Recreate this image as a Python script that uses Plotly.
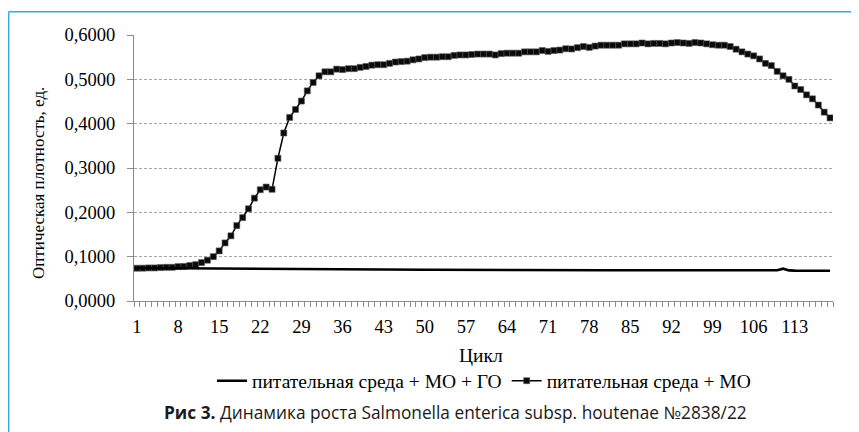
import plotly.graph_objects as go

# ---- data ----
cycles = list(range(1, 120))

series_mo_go_name = "питательная среда + МО + ГО"
series_mo_go = [
    0.0745, 0.0744, 0.0743, 0.0741, 0.0740, 0.0739, 0.0737, 0.0736, 0.0735, 0.0734,
    0.0733, 0.0732, 0.0731, 0.0730, 0.0729, 0.0728, 0.0727, 0.0727, 0.0726, 0.0725,
    0.0724, 0.0723, 0.0722, 0.0721, 0.0720, 0.0719, 0.0718, 0.0717, 0.0716, 0.0715,
    0.0715, 0.0714, 0.0714, 0.0713, 0.0713, 0.0712, 0.0712, 0.0711, 0.0711, 0.0710,
    0.0710, 0.0709, 0.0709, 0.0708, 0.0708, 0.0707, 0.0707, 0.0706, 0.0706, 0.0705,
    0.0705, 0.0704, 0.0704, 0.0704, 0.0703, 0.0703, 0.0703, 0.0702, 0.0702, 0.0701,
    0.0701, 0.0701, 0.0700, 0.0700, 0.0700, 0.0699, 0.0699, 0.0699, 0.0698, 0.0698,
    0.0698, 0.0697, 0.0697, 0.0697, 0.0696, 0.0696, 0.0696, 0.0695, 0.0695, 0.0695,
    0.0694, 0.0694, 0.0694, 0.0693, 0.0693, 0.0693, 0.0692, 0.0692, 0.0692, 0.0691,
    0.0691, 0.0691, 0.0690, 0.0690, 0.0690, 0.0689, 0.0689, 0.0689, 0.0688, 0.0688,
    0.0688, 0.0688, 0.0687, 0.0687, 0.0687, 0.0687, 0.0686, 0.0686, 0.0686, 0.0692,
    0.0730, 0.0690, 0.0685, 0.0685, 0.0685, 0.0684, 0.0684, 0.0684, 0.0684,
]

series_mo_name = "питательная среда + МО"
series_mo = [
    0.0739, 0.0740, 0.0746, 0.0746, 0.0754, 0.0760, 0.0760, 0.0776, 0.0780, 0.0800,
    0.0820, 0.0867, 0.0920, 0.1000, 0.1130, 0.1310, 0.1470, 0.1700, 0.1880, 0.2080,
    0.2320, 0.2510, 0.2570, 0.2520, 0.3220, 0.3790, 0.4140, 0.4320, 0.4510, 0.4740,
    0.4930, 0.5080, 0.5170, 0.5170, 0.5230, 0.5220, 0.5240, 0.5240, 0.5270, 0.5290,
    0.5320, 0.5330, 0.5330, 0.5360, 0.5390, 0.5400, 0.5410, 0.5440, 0.5460, 0.5490,
    0.5500, 0.5500, 0.5510, 0.5510, 0.5540, 0.5550, 0.5550, 0.5560, 0.5570, 0.5570,
    0.5570, 0.5550, 0.5580, 0.5590, 0.5590, 0.5590, 0.5620, 0.5620, 0.5620, 0.5650,
    0.5630, 0.5650, 0.5660, 0.5690, 0.5685, 0.5715, 0.5740, 0.5720, 0.5750, 0.5770,
    0.5770, 0.5770, 0.5770, 0.5800, 0.5800, 0.5800, 0.5820, 0.5800, 0.5810, 0.5810,
    0.5800, 0.5820, 0.5830, 0.5820, 0.5810, 0.5830, 0.5820, 0.5800, 0.5780, 0.5770,
    0.5770, 0.5740, 0.5680, 0.5620, 0.5570, 0.5530, 0.5460, 0.5360, 0.5310, 0.5180,
    0.5080, 0.5000, 0.4850, 0.4770, 0.4650, 0.4560, 0.4420, 0.4260, 0.4130,
]

x_tick_vals = list(range(1, 114, 7))
x_tick_text = [str(v) for v in x_tick_vals]
y_tick_vals = [0.0, 0.1, 0.2, 0.3, 0.4, 0.5, 0.6]
y_tick_text = ["0,0000", "0,1000", "0,2000", "0,3000", "0,4000", "0,5000", "0,6000"]

x_title = "Цикл"
y_title = "Оптическая плотность, ед."
caption = "<b>Рис 3.</b> Динамика роста Salmonella enterica subsp. houtenae №2838/22"

# ---- figure ----
serif = "Liberation Serif"
axis_grey = "#8c8c8c"
grid_grey = "#a6a6a6"
frame_blue = "#3aa9e0"

fig = go.Figure()
fig.add_trace(go.Scatter(
    x=cycles, y=series_mo, name=series_mo_name, mode="lines+markers",
    line=dict(color="#000000", width=1.5),
    marker=dict(symbol="square", size=6, color="#0a0a0a",
                line=dict(width=0.6, color="#555555")),
    legendrank=2,
))
fig.add_trace(go.Scatter(
    x=cycles, y=series_mo_go, name=series_mo_go_name, mode="lines",
    line=dict(color="#000000", width=2.6),
    legendrank=1,
))

# page has an 8px body margin: figure drawn at (8, 8)
OFF = 8
W, H = 859 - OFF, 432 - OFF
L, R, T, B = 134 - OFF, 26, 35 - OFF, 131
pw, ph = W - L - R, H - T - B


def px(xpage):
    return (xpage - OFF - L) / pw


def py(ypage):
    return (H - B - (ypage - OFF)) / ph


fig.update_layout(
    width=W, height=H,
    margin=dict(l=L, r=R, t=T, b=B, pad=0),
    paper_bgcolor="white", plot_bgcolor="white",
    font=dict(family=serif, size=18, color="#000000"),
    showlegend=True,
    legend=dict(
        orientation="h", x=px(484), xanchor="center", y=py(381), yanchor="middle",
        font=dict(family=serif, size=19.5, color="#000000"),
        traceorder="normal", itemwidth=30, bgcolor="rgba(0,0,0,0)",
    ),
    xaxis=dict(
        range=[0.5, 119.5], showgrid=False, zeroline=False,
        showline=True, linecolor=axis_grey, linewidth=1,
        tickmode="array", tickvals=x_tick_vals, ticktext=x_tick_text,
        ticks="outside", ticklen=5, tickcolor="rgba(0,0,0,0)",
        ticklabelstandoff=4,
        tickfont=dict(family=serif, size=18.5, color="#000000"),
        minor=dict(ticks="outside", ticklen=5, tickcolor=axis_grey, tickwidth=1,
                   tickmode="linear", tick0=0.5, dtick=1, showgrid=False),
    ),
    yaxis=dict(
        range=[0, 0.6], zeroline=False,
        showline=True, linecolor=axis_grey, linewidth=1,
        tickmode="array", tickvals=y_tick_vals, ticktext=y_tick_text,
        ticks="outside", ticklen=6, tickcolor=axis_grey,
        ticklabelstandoff=8,
        tickfont=dict(family=serif, size=18.5, color="#000000"),
        showgrid=True, gridcolor=grid_grey, gridwidth=1, griddash="3px,2px",
    ),
    annotations=[
        dict(text=x_title, x=px(481), y=py(355), xref="paper", yref="paper",
             showarrow=False, xanchor="center", yanchor="middle",
             font=dict(family=serif, size=19.5, color="#000000")),
        dict(text=y_title, x=px(38), y=py(183), xref="paper", yref="paper",
             showarrow=False, xanchor="center", yanchor="middle", textangle=-90,
             font=dict(family=serif, size=17, color="#000000")),
        dict(text=caption, x=px(455), y=py(412), xref="paper", yref="paper",
             showarrow=False, xanchor="center", yanchor="middle",
             font=dict(family="Open Sans", size=17.3, color="#1a1a1a")),
    ],
    shapes=[
        dict(type="line", xref="paper", yref="paper",
             x0=px(8.7), x1=px(860), y0=py(11.7), y1=py(11.7),
             line=dict(color=frame_blue, width=1.5)),
        dict(type="line", xref="paper", yref="paper",
             x0=px(8.7), x1=px(8.7), y0=py(11.7), y1=py(433),
             line=dict(color=frame_blue, width=1.5)),
    ],
)

fig.write_html("out.html")
